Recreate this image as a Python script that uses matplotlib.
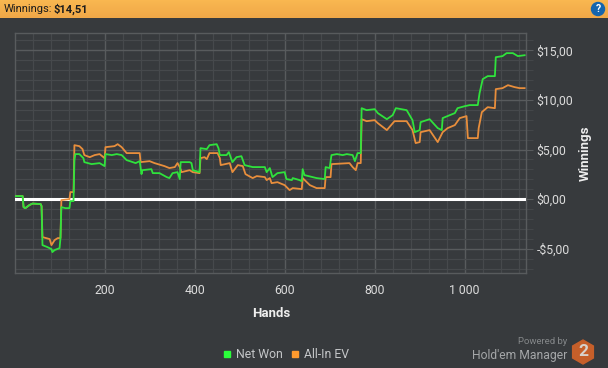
import numpy as np
import matplotlib
matplotlib.use("Agg")
import matplotlib.pyplot as plt
from matplotlib.lines import Line2D
from matplotlib.patches import RegularPolygon, Circle
from matplotlib.ticker import FixedLocator, MultipleLocator

plt.rcParams['font.family'] = ['Roboto', 'DejaVu Sans']

# Net Won
net_hands = [1, 18, 20, 24, 33, 40, 58, 60, 62, 73, 82, 84, 89, 100, 102, 104, 113, 122, 124, 131, 133, 135,
             144, 153, 155, 171, 189, 200, 202, 216, 227, 238, 249, 256, 269, 278, 282, 284, 304, 307, 322, 338,
             344, 351, 362, 367, 369, 389, 393, 396, 411, 413, 427, 433, 449, 453, 456, 471, 476, 480, 484, 493,
             504, 511, 529, 556, 560, 567, 573, 584, 600, 604, 616, 618, 633, 638, 640, 644, 671, 689, 691, 700,
             704, 716, 729, 738, 751, 756, 762, 769, 771, 782, 800, 807, 827, 840, 847, 871, 884, 889, 900, 902,
             922, 940, 949, 951, 967, 978, 984, 1000, 1011, 1029, 1033, 1040, 1051, 1067, 1069, 1084, 1093, 1107, 1118, 1133]
net_won = [0.30, 0.30, -0.81, -0.91, -0.60, -0.45, -0.50, -0.71, -4.64, -4.84, -5.04, -5.34, -5.14, -4.94, -3.93, -0.81, -0.91, -0.91, -0.20, -0.20, 3.93, 4.54,
           4.54, 4.13, 3.73, 3.53, 3.63, 3.33, 4.54, 4.44, 4.54, 4.44, 3.93, 3.83, 3.63, 3.83, 2.52, 2.92, 3.02, 2.62, 2.62, 2.22,
           2.12, 2.62, 2.72, 2.02, 3.73, 3.73, 3.63, 2.92, 2.72, 5.14, 5.04, 5.44, 5.54, 5.14, 4.44, 4.44, 4.74, 4.23, 3.73, 4.23,
           4.33, 3.43, 3.23, 3.23, 2.72, 3.13, 2.22, 2.62, 2.72, 2.02, 1.92, 2.12, 1.92, 1.81, 3.02, 2.42, 2.12, 2.02, 3.23, 3.13,
           4.44, 4.54, 4.44, 4.54, 4.44, 3.83, 4.64, 4.64, 9.17, 8.97, 9.07, 8.67, 8.06, 8.47, 9.17, 8.97, 7.96, 6.75, 6.96, 7.76,
           8.06, 7.16, 6.96, 8.17, 8.47, 8.67, 9.17, 9.37, 9.48, 9.48, 10.69, 12.10, 12.40, 12.40, 14.31, 14.42, 14.72, 14.72, 14.42, 14.51]

# All-In EV
ev_hands = [1, 18, 20, 24, 33, 40, 58, 60, 62, 78, 82, 89, 96, 102, 104, 122, 124, 131, 133, 144, 151,
            155, 167, 178, 189, 200, 202, 222, 229, 238, 249, 278, 280, 300, 311, 333, 344, 356, 362, 367, 371,
            389, 396, 411, 413, 422, 427, 433, 451, 456, 458, 478, 484, 496, 507, 513, 529, 538, 556, 560, 567,
            571, 584, 600, 611, 618, 638, 640, 656, 671, 689, 691, 702, 704, 744, 751, 758, 762, 769, 771, 782, 800,
            807, 827, 844, 871, 884, 891, 900, 902, 922, 940, 951, 962, 978, 989, 1004, 1007, 1029, 1031, 1038, 1051,
            1067, 1069, 1084, 1096, 1111, 1122, 1133]
all_in_ev = [0.30, 0.30, -0.81, -0.91, -0.60, -0.45, -0.50, -0.71, -3.83, -4.03, -4.64, -4.13, -3.93, -3.93, -0.10, 0.00, 0.71, 0.71, 5.44, 5.34, 5.04,
             4.44, 4.23, 4.44, 4.54, 4.13, 5.24, 5.34, 5.54, 5.24, 4.64, 4.64, 3.73, 3.83, 3.63, 3.33, 3.13, 3.23, 3.63, 3.23, 2.72,
             2.92, 2.72, 2.62, 4.13, 4.23, 4.03, 4.64, 4.64, 4.13, 3.43, 3.63, 2.72, 3.43, 3.33, 2.52, 2.12, 2.32, 2.22, 1.92, 2.12,
             1.61, 1.71, 1.41, 0.91, 1.11, 1.01, 2.12, 1.41, 1.11, 1.11, 2.22, 2.22, 3.53, 3.63, 3.23, 2.92, 3.63, 3.63, 8.06, 7.86, 7.96,
             7.66, 6.96, 7.86, 7.86, 6.96, 5.65, 5.75, 6.75, 6.96, 5.75, 6.75, 7.16, 7.46, 8.17, 8.37, 6.15, 6.15, 7.16, 8.77, 9.27,
             9.17, 11.09, 11.19, 11.49, 11.29, 11.19, 11.19]

x_ticks = [200, 400, 600, 800, 1000]
x_labels = ['200', '400', '600', '800', '1 000']
y_ticks = [-5, 0, 5, 10, 15]
y_labels = ['-$5,00', '$0,00', '$5,00', '$10,00', '$15,00']

BG = '#373a3d'
GREEN = '#2fe23c'
ORANGE = '#e88e3c'
TEXT = '#dcdcdc'

W, H = 608, 368
fig = plt.figure(figsize=(W / 100, H / 100), dpi=100, facecolor=BG)

# page furniture in pixel coords
page = fig.add_axes([0, 0, 1, 1], zorder=0)
page.set_xlim(0, W)
page.set_ylim(H, 0)
page.axis('off')
grad = np.linspace(0, 1, 18)[:, None, None]
top_col = np.array(matplotlib.colors.to_rgb('#f9b750'))
bot_col = np.array(matplotlib.colors.to_rgb('#f0a848'))
page.imshow(top_col + grad * (bot_col - top_col), extent=(0, W, 18, 0), aspect='auto', zorder=1)
page.set_xlim(0, W)
page.set_ylim(H, 0)
page.text(4, 9, 'Winnings:', fontsize=8.0, color='#1c1c1c', va='center', ha='left', zorder=3)
page.text(54, 9, '$14,51', fontsize=8.0, color='#1c1c1c', va='center', ha='left', fontweight='bold', zorder=3)
page.add_patch(Circle((598, 9), 6.5, color='#1565ad', zorder=3))
page.text(598, 8.5, '?', fontsize=7.5, color='white', fontweight='bold', ha='center', va='center', zorder=4)
page.text(567, 342, 'Powered by', fontsize=6.8, color='#85888a', ha='right', va='center')
page.text(567, 355, "Hold'em Manager", fontsize=8.7, color='#a4a6a8', ha='right', va='center')
page.add_patch(RegularPolygon((583, 352), 6, radius=12, orientation=0, color='#c65f2a', zorder=3))
page.text(583, 351.5, '2', fontsize=12.5, color='#d8d2cc', fontweight='bold', ha='center', va='center', zorder=4)

ax = fig.add_axes([15 / W, (H - 273) / H, 510.5 / W, 240 / H], zorder=2)
ax.set_facecolor(BG)
ax.set_xlim(1, 1135)
ax.set_ylim(-7.45, 16.75)

ax.xaxis.set_major_locator(FixedLocator(x_ticks))
ax.set_xticklabels(x_labels)
ax.xaxis.set_minor_locator(MultipleLocator(40))
ax.yaxis.tick_right()
ax.yaxis.set_major_locator(FixedLocator(y_ticks))
ax.set_yticklabels(y_labels)
ax.yaxis.set_minor_locator(MultipleLocator(1))

ax.grid(True, which='major', color='#585b5d', linewidth=1.0)
ax.grid(True, which='minor', color='#46494c', linewidth=0.9)
ax.set_axisbelow(True)
ax.tick_params(axis='x', which='both', length=0, labelsize=8.8, labelcolor=TEXT, pad=8)
ax.tick_params(axis='y', which='major', length=5, color='#585b5d', labelsize=8.8, labelcolor=TEXT, pad=3)
ax.tick_params(axis='y', which='minor', length=5, color='#46494c')
for s in ax.spines.values():
    s.set_color('#585b5d')
    s.set_linewidth(1.0)

ax.axhline(0, color='white', linewidth=2.2, zorder=3)
ax.plot(ev_hands, all_in_ev, color=ORANGE, linewidth=1.3, zorder=4)
ax.plot(net_hands, net_won, color=GREEN, linewidth=1.3, zorder=5)

ax.set_xlabel('Hands', fontsize=9.5, fontweight='bold', color='#eeeeee')
ax.xaxis.set_label_coords(256 / 510.5, -34 / 240)
ax.set_ylabel('Winnings', fontsize=9.5, fontweight='bold', color='#eeeeee', rotation=90)
ax.yaxis.set_label_position('right')
ax.yaxis.set_label_coords(1.105, 0.5)

handles = [Line2D([], [], linestyle='', marker='s', markersize=5, color='#2aff3a'),
           Line2D([], [], linestyle='', marker='s', markersize=5, color='#ff9a2e')]
fig.legend(handles, ['Net Won', 'All-In EV'], loc='center', bbox_to_anchor=(285 / W, 1 - 354.5 / H), ncol=2,
           frameon=False, fontsize=8.8, labelcolor='#c4c6c8', handlelength=1.0, handletextpad=0.2,
           columnspacing=0.5, borderpad=0)

fig.savefig('out.png', dpi=100, facecolor=BG)
